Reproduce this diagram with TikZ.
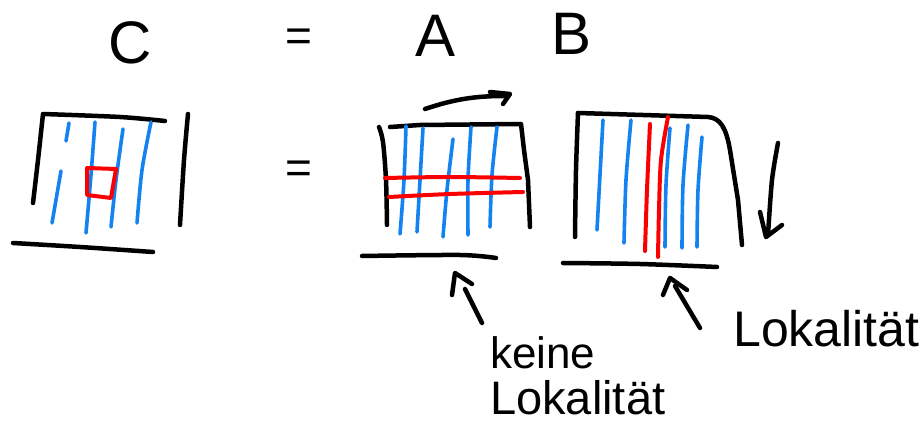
\documentclass[tikz,border=0pt]{standalone}
\usepackage{fontspec}
\setmainfont{Liberation Sans}
\definecolor{penblue}{RGB}{20,130,240}
\definecolor{penred}{RGB}{250,0,0}
\begin{document}
\begin{tikzpicture}[x=1pt,y=-1pt,
  ink/.style={line width=4.5pt,line cap=round,line join=round,black},
  bl/.style={line width=3.6pt,line cap=round,line join=round,penblue},
  rd/.style={line width=4pt,line cap=round,line join=round,penred},
  big/.style={font=\fontsize{60}{66}\selectfont,inner sep=0pt},
  eqs/.style={font=\fontsize{46}{50}\selectfont,inner sep=0pt},
  lbl/.style={font=\fontsize{50}{56}\selectfont,inner sep=0pt,anchor=base west}]
\useasboundingbox (0,0) rectangle (924,427);

% headings
\node[big] (tC) at (130,43) {C};
\node[eqs] (tEq1) at (299,40) {=};
\node[big] (tA) at (436,36) {A};
\node[big] (tB) at (572,34) {B};
\node[eqs] (tEq2) at (299,172) {=};

% ---- matrix C ----
\draw[ink] plot[smooth] coordinates {(165,121) (120,117) (43,114)} -- plot[smooth] coordinates {(43,114) (38,160) (33,203)};
\draw[ink] plot[smooth] coordinates {(188,114) (184,160) (180,225)};
\draw[ink] plot[smooth] coordinates {(13,243) (80,247) (153,252)};
\draw[bl] (69,123) -- (66,141);
\draw[bl] (61,171) -- (52,223);
\draw[bl] plot[smooth] coordinates {(95,122) (91,175) (86,233)};
\draw[bl] plot[smooth] coordinates {(123,129) (116,180) (111,227)};
\draw[bl] plot[smooth] coordinates {(151,122) (142,170) (137,223)};
\draw[rd] (87,168) -- (116,169) -- (111,198) -- (87,195) -- cycle;

% ---- matrix A ----
\coordinate (aS) at (425,109);
\coordinate (aE) at (505,96);
\draw[ink] (aS) .. controls (455,99) and (475,96) .. (aE);
\draw[ink] (490,92) -- (510,94) -- (503,104);
\draw[ink] plot[smooth] coordinates {(379,127) (383,142) (386,180) (387,225)};
\draw[ink] (390,127) -- (420,125) -- (521,124) -- (524,150) -- (528,180) -- (530,227);
\draw[ink] plot[smooth] coordinates {(362,256) (460,255) (496,258)};
\draw[bl] plot[smooth] coordinates {(406,126) (404,180) (400,234)};
\draw[bl] plot[smooth] coordinates {(423,128) (420,180) (417,232)};
\draw[bl] plot[smooth] coordinates {(453,139) (447,190) (443,237)};
\draw[bl] plot[smooth] coordinates {(471,127) (468,180) (468,235)};
\draw[bl] plot[smooth] coordinates {(497,127) (492,175) (490,227)};
\draw[rd] plot[smooth] coordinates {(385,178) (450,177) (520,178)};
\draw[rd] plot[smooth] coordinates {(389,197) (450,194) (523,192)};

% ---- matrix B ----
\draw[ink] plot[smooth] coordinates {(575,237) (576,170) (578,113)};
\draw[ink] (578,113) -- (708,117) .. controls (720,118) and (726,127) .. (730,150) -- (738,200) -- (742,245);
\draw[ink] plot[smooth] coordinates {(563,263) (640,264) (717,267)};
\draw[bl] plot[smooth] coordinates {(603,120) (600,175) (597,230)};
\draw[bl] plot[smooth] coordinates {(631,120) (626,180) (624,243)};
\draw[bl] plot[smooth] coordinates {(670,128) (666,185) (665,247)};
\draw[bl] plot[smooth] coordinates {(688,125) (683,185) (682,248)};
\draw[bl] plot[smooth] coordinates {(702,137) (698,190) (697,247)};
\draw[rd] plot[smooth] coordinates {(650,124) (647,190) (645,251)};
\draw[rd] plot[smooth] coordinates {(668,117) (661,160) (659,210) (658,257)};
% down arrow
\draw[ink] plot[smooth] coordinates {(778,143) (772,180) (768,235)};
\draw[ink] (760,212) -- (766,237) -- (782,225);

% pointer arrows
\coordinate (p1tip) at (455,273);
\draw[ink] (482,323) -- (465,289);
\draw[ink] (452,295) -- (p1tip) -- (472,284);
\coordinate (p2tip) at (670,278);
\draw[ink] (700,328) -- (675,286);
\draw[ink] (663,295) -- (p2tip) -- (687,290);

% labels
\node[lbl,font=\fontsize{44}{50}\selectfont] (lk) at (490,369) {keine};
\node[lbl,font=\fontsize{47}{52}\selectfont] (ll1) at (490,415) {Lokalität};
\node[lbl] (ll2) at (733,347) {Lokalität};
\end{tikzpicture}
\end{document}
